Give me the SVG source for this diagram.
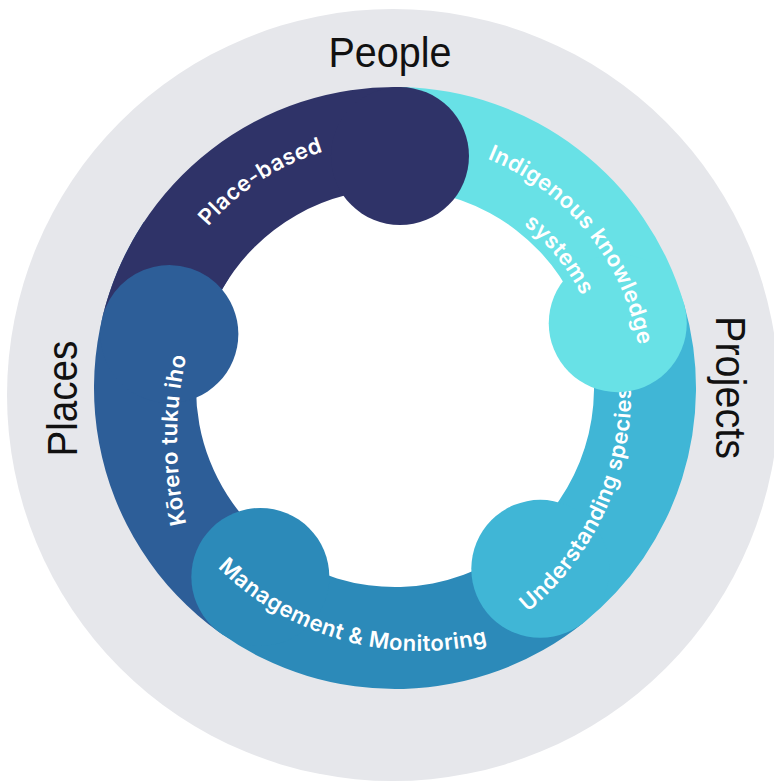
<svg xmlns="http://www.w3.org/2000/svg" width="774" height="782" viewBox="0 0 774 782">
<style>
.lbl{font-family:Inter,"Open Sans","Liberation Sans",sans-serif;font-weight:600;font-size:22px;fill:#ffffff;letter-spacing:0.5px}
.side{font-family:"Liberation Sans",Arial,sans-serif;font-size:42px;fill:#111111}
.c1{fill:#2F3368}.c2{fill:#68E1E6}.c3{fill:#40B6D6}.c4{fill:#2C8AB9}.c5{fill:#2D5E98}
</style>
<defs>
<path id="tp1" d="M153.40,336.65 A247,247 0 0 1 446.35,146.40"/>
<path id="tp2a" d="M420.82,142.35 A247,247 0 0 1 640.65,413.82"/>
<path id="tp2b" d="M416.74,181.14 A208,208 0 0 1 601.86,409.74"/>
<path id="tp3" d="M422.15,667.09 A284.5,284.5 0 0 0 603.60,270.77"/>
<path id="tp4" d="M158.04,481.86 A288.2,288.2 0 0 0 583.32,600.60"/>
<path id="tp5" d="M228.30,631.50 A383,383 0 0 1 228.30,248.50"/>
</defs>
<rect width="774" height="782" fill="#ffffff"/>
<g id="background">
<circle cx="393" cy="395" r="386" fill="#E6E7EB"/>
<circle cx="395" cy="388" r="200" fill="#ffffff"/>
</g>
<g id="connectors"></g>
<g id="node-korero">
<path class="c5" d="M220.29,633.11 A301,301 0 0 1 143.82,222.12 L228.94,278.34 A199,199 0 0 0 279.50,550.05 Z"/>
<circle class="c5" cx="169.35" cy="334.07" r="69"/>
<text class="lbl"><textPath href="#tp5" startOffset="50%" text-anchor="middle">Kōrero tuku iho</textPath></text>
</g>
<g id="node-management">
<path class="c4" d="M583.53,622.65 A301,301 0 0 1 220.29,633.11 L279.50,550.05 A199,199 0 0 0 519.64,543.13 Z"/>
<circle class="c4" cx="260.34" cy="576.92" r="69"/>
<text class="lbl"><textPath href="#tp4" startOffset="50%" text-anchor="middle">Management &amp; Monitoring</textPath></text>
</g>
<g id="node-understanding">
<path class="c3" d="M684.02,303.92 A301,301 0 0 1 583.53,622.65 L519.64,543.13 A199,199 0 0 0 586.08,332.41 Z"/>
<circle class="c3" cx="540.31" cy="568.86" r="69"/>
<text class="lbl"><textPath href="#tp3" startOffset="50%" text-anchor="middle">Understanding species</textPath></text>
</g>
<g id="node-indigenous">
<path class="c2" d="M401.46,87.07 A301,301 0 0 1 684.02,303.92 L586.08,332.41 A199,199 0 0 0 399.27,189.05 Z"/>
<circle class="c2" cx="617.76" cy="323.20" r="69"/>
<text class="lbl"><textPath href="#tp2a" startOffset="50%" text-anchor="middle">Indigenous knowledge</textPath></text>
<text class="lbl"><textPath href="#tp2b" startOffset="50%" text-anchor="middle">systems</textPath></text>
</g>
<g id="node-place-based">
<path class="c1" d="M102.24,318.04 A301,301 0 0 1 401.46,87.07 L399.27,189.05 A199,199 0 0 0 222.05,289.55 A69,69 0 0 0 102.24,318.04 Z"/>
<circle class="c1" cx="399.98" cy="156.05" r="69"/>
<text class="lbl"><textPath href="#tp1" startOffset="50%" text-anchor="middle">Place-based</textPath></text>
</g>
<g id="axis-labels">
<text class="side" x="390" y="67" text-anchor="middle" textLength="123" lengthAdjust="spacingAndGlyphs">People</text>
<text class="side" transform="translate(77,398.6) rotate(-90)" text-anchor="middle" textLength="116" lengthAdjust="spacingAndGlyphs">Places</text>
<text class="side" transform="translate(716,387.5) rotate(90)" text-anchor="middle" textLength="143" lengthAdjust="spacingAndGlyphs">Projects</text>
</g>
</svg>
